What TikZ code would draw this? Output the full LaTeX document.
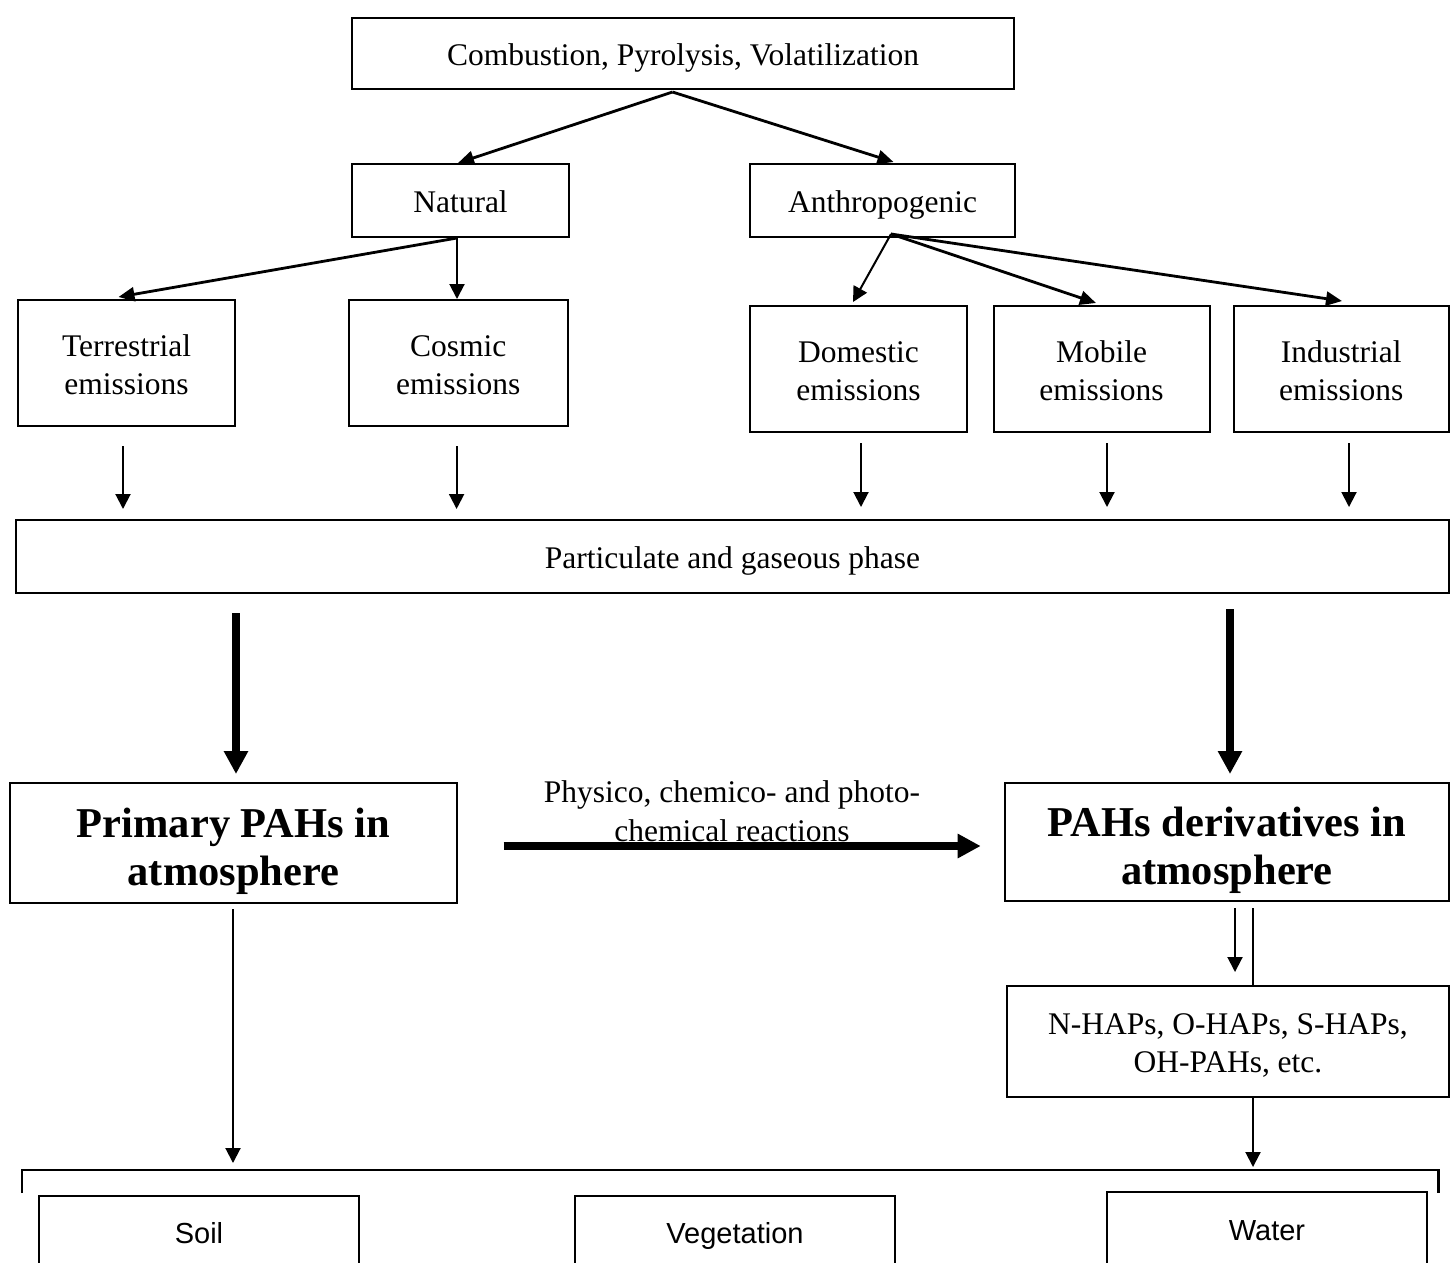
\documentclass[tikz,border=0pt]{standalone}
\usepackage{fontspec}
\setmainfont{Liberation Serif}
\newfontfamily\sansf{Liberation Sans}
\usetikzlibrary{arrows.meta,calc}
\newcommand\hs{\rule{0pt}{32pt}}
\newcommand\ds{\rule[-8pt]{0pt}{8pt}}
\newcommand\bhs{\rule{0pt}{46pt}}
\newcommand\bds{\rule[-10pt]{0pt}{10pt}}
\begin{document}
\begin{tikzpicture}[x=1pt,y=-1pt,
  box/.style={draw,line width=2pt,inner sep=0pt,align=center,font=\fontsize{31.5}{38}\selectfont},
  bigbox/.style={box,font=\fontsize{42.5}{48}\selectfont\bfseries},
  sbox/.style={box,font=\fontsize{29}{34}\selectfont\sansf},
  thin arrow/.style={line width=2pt,-{Triangle[length=15pt,width=15pt]}},
  mid arrow/.style={line width=2.8pt,-{Triangle[length=16pt,width=14pt]}},
  thick arrow/.style={line width=8.5pt,-{Triangle[length=23pt,width=23pt]}},
  brace line/.style={line width=2.5pt},
]
\useasboundingbox (0,0) rectangle (1450,1262);

% boxes
\node[box,minimum width=662pt,minimum height=71pt] (top) at (683,53.5) {\hs Combustion, Pyrolysis, Volatilization\ds};
\node[box,minimum width=217pt,minimum height=73pt] (nat) at (460.5,200.5) {\hs Natural\ds};
\node[box,minimum width=265pt,minimum height=73pt] (anth) at (882.5,200.5) {\hs Anthropogenic\ds};

\node[box,minimum width=217pt,minimum height=126pt] (terr) at (126.5,363) {\hs Terrestrial\\emissions\ds};
\node[box,minimum width=218.5pt,minimum height=126pt] (cosm) at (458.25,363) {\hs Cosmic\\emissions\ds};
\node[box,minimum width=217pt,minimum height=126pt] (dom) at (858.5,369) {\hs Domestic\\emissions\ds};
\node[box,minimum width=216pt,minimum height=126pt] (mob) at (1101.5,369) {\hs Mobile\\emissions\ds};
\node[box,minimum width=215.5pt,minimum height=126pt] (ind) at (1341.25,369) {\hs Industrial\\emissions\ds};

\node[box,minimum width=1433pt,minimum height=72.5pt] (part) at (732.5,556.25) {\hs Particulate and gaseous phase\ds};

\node[bigbox,minimum width=447pt,minimum height=120pt] (prim) at (233.5,843) {\bhs Primary PAHs in\\atmosphere\bds};
\node[bigbox,minimum width=444pt,minimum height=118pt] (deriv) at (1227,842) {\bhs PAHs derivatives in\\atmosphere\bds};
\node[box,minimum width=442pt,minimum height=111pt] (nhaps) at (1228,1041.5) {\hs N-HAPs, O-HAPs, S-HAPs,\\OH-PAHs, etc.\ds};

\node[sbox,minimum width=320pt,minimum height=71pt] (soil) at (199,1231) {\hs Soil\ds};
\node[sbox,minimum width=320pt,minimum height=71pt] (veg) at (735,1231) {\hs Vegetation\ds};
\node[sbox,minimum width=320pt,minimum height=72pt] (water) at (1267,1228) {\hs Water\ds};

% top level connectors
\draw[mid arrow] ($(top.south)+(-10.5,2)$) -- ($(nat.north)+(-2.5,0)$);
\draw[mid arrow] ($(top.south)+(-10.5,2)$) -- ($(anth.north)+(11,-1)$);

\draw[mid arrow] ($(nat.south)+(-3.5,0)$) -- ($(terr.north)+(-8,-2)$);
\draw[thin arrow] ($(nat.south)+(-3.5,0)$) -- ($(cosm.north)+(-1.25,0)$);

\draw[thin arrow] ($(anth.south)+(8.5,-4)$) -- ($(dom.north)+(-5.5,-3)$);
\draw[mid arrow] ($(anth.south)+(8.5,-4)$) -- ($(mob.north)+(-5.5,-2)$);
\draw[mid arrow] ($(anth.south)+(8.5,-4)$) -- ($(ind.north)+(0.75,-4)$);

% short arrows into particulate phase
\draw[thin arrow] ($(terr.south)+(-3.5,19)$) -- ($(terr.south |- part.north)+(-3.5,-10)$);
\draw[thin arrow] ($(cosm.south)+(-1.65,19)$) -- ($(cosm.south |- part.north)+(-1.65,-10)$);
\draw[thin arrow] ($(dom.south)+(2.5,10)$) -- ($(dom.south |- part.north)+(2.5,-12)$);
\draw[thin arrow] ($(mob.south)+(5.5,10)$) -- ($(mob.south |- part.north)+(5.5,-12)$);
\draw[thin arrow] ($(ind.south)+(7.75,10)$) -- ($(ind.south |- part.north)+(7.75,-12)$);

% thick arrows
\draw[thick arrow] ($(part.south -| prim.north)+(2.5,19.5)$) -- ($(prim.north)+(2.5,-8)$);
\draw[thick arrow] ($(part.south -| deriv.north)+(3,15.5)$) -- ($(deriv.north)+(3,-8)$);
\draw[thick arrow] ($(prim.east)+(45.7,3)$) -- ($(deriv.west)+(-23.3,4)$);
\node[font=\fontsize{31.5}{38.5}\selectfont,align=center,inner sep=0pt] (rxn) at (732,810) {\hs Physico, chemico- and photo-\\chemical reactions\ds};

% derivatives to N-HAPs
\draw[thin arrow] ($(deriv.south)+(8,6)$) -- ($(nhaps.north)+(7,-13)$);
\draw[line width=2pt] ($(deriv.south)+(26,6)$) -- ($(nhaps.north)+(25,0)$);

% bracket
\coordinate (bl) at (22,1193);
\coordinate (tl) at (22,1170);
\coordinate (tr) at (1438.5,1170);
\coordinate (br) at (1438.5,1193);
\draw[brace line] (bl) -- (tl) -- (tr) -- (br);

\draw[thin arrow] ($(prim.south)+(-0.5,5)$) -- ($(prim.south |- tl)+(-0.5,-7)$);
\draw[thin arrow] ($(nhaps.south)+(25,0)$) -- ($(nhaps.south |- tl)+(25,-3)$);
\end{tikzpicture}
\end{document}
